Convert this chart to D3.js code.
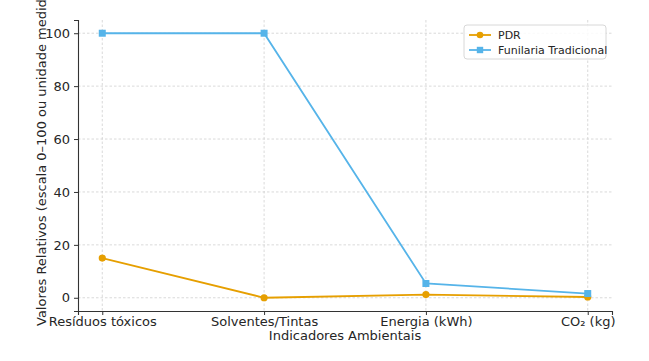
<!DOCTYPE html>
<html>
<head>
<meta charset="utf-8">
<script src="https://cdn.jsdelivr.net/npm/d3@7"></script>
<style>
  body { margin: 0; background: #fff; }
  text { font-family: "DejaVu Sans", sans-serif; fill: #262626; }
</style>
</head>
<body>
<script>
// data
var categories = ["Resíduos tóxicos", "Solventes/Tintas", "Energia (kWh)", "CO₂ (kg)"];
var pdr = [15, 0, 1.2, 0.3];
var funilaria = [100, 100, 5.4, 1.6];
var yTicks = [0, 20, 40, 60, 80, 100];
var seriesNames = ["PDR", "Funilaria Tradicional"];

var colors = ["#E69F00", "#56B4E9"];

// set the dimensions and margins of the graph
var margin = {top: 20, right: 37, bottom: 50, left: 78},
    width = 649 - margin.left - margin.right,
    height = 361 - margin.top - margin.bottom;

var svg = d3.select("body").append("svg")
    .attr("width", width + margin.left + margin.right)
    .attr("height", height + margin.top + margin.bottom)
  .append("g")
    .attr("transform", "translate(" + margin.left + "," + margin.top + ")");

var x = d3.scaleLinear().domain([-0.15, 3.15]).range([0, width]);
var y = d3.scaleLinear().domain([-5, 105]).range([height, 0]);

// grid
svg.append("g").selectAll("line")
    .data(yTicks).enter().append("line")
    .attr("x1", 0).attr("x2", width)
    .attr("y1", function(d) { return y(d); })
    .attr("y2", function(d) { return y(d); })
    .style("stroke", "#d0d0d0").style("stroke-width", 0.8)
    .style("stroke-dasharray", "2.5,2");
svg.append("g").selectAll("line")
    .data(categories).enter().append("line")
    .attr("x1", function(d, i) { return x(i); })
    .attr("x2", function(d, i) { return x(i); })
    .attr("y1", 0).attr("y2", height)
    .style("stroke", "#d0d0d0").style("stroke-width", 0.8)
    .style("stroke-dasharray", "2.5,2");

// axes
var xAxis = svg.append("g")
    .attr("transform", "translate(0," + height + ")")
    .call(d3.axisBottom(x).tickValues([0, 1, 2, 3])
      .tickFormat(function(d) { return categories[d]; })
      .tickSizeOuter(0).tickSize(4).tickPadding(2));
var yAxis = svg.append("g")
    .call(d3.axisLeft(y).tickValues(yTicks).tickSizeOuter(0).tickSize(4).tickPadding(4));

[xAxis, yAxis].forEach(function(a) {
  a.select(".domain").style("stroke", "#333").style("stroke-width", 1.1);
  a.selectAll(".tick line").style("stroke", "#333");
  a.selectAll(".tick text")
    .attr("font-family", "DejaVu Sans")
    .attr("font-size", 13)
    .style("fill", "#262626");
});

// lines
var line = d3.line()
    .x(function(d, i) { return x(i); })
    .y(function(d) { return y(d); });

[pdr, funilaria].forEach(function(vals, s) {
  svg.append("path")
      .datum(vals)
      .attr("d", line)
      .style("fill", "none")
      .style("stroke", colors[s])
      .style("stroke-width", 1.8);
});

svg.selectAll("circle.pdr")
    .data(pdr).enter().append("circle")
    .attr("class", "pdr")
    .attr("cx", function(d, i) { return x(i); })
    .attr("cy", function(d) { return y(d); })
    .attr("r", 3.6)
    .style("fill", colors[0]);

svg.selectAll("rect.fun")
    .data(funilaria).enter().append("rect")
    .attr("class", "fun")
    .attr("x", function(d, i) { return x(i) - 3.5; })
    .attr("y", function(d) { return y(d) - 3.5; })
    .attr("width", 7).attr("height", 7)
    .style("fill", colors[1]);

// Axis labels
svg.append("text")
    .attr("x", width / 2)
    .attr("y", height + 29)
    .style("text-anchor", "middle")
    .attr("font-size", 13)
    .text("Indicadores Ambientais");
svg.append("text")
    .attr("transform", "rotate(-90)")
    .attr("x", -(height + 15))
    .attr("y", -32)
    .style("text-anchor", "start")
    .attr("font-size", 13)
    .text("Valores Relativos (escala 0–100 ou unidade medida)");

// legend
var lg = svg.append("g").attr("transform", "translate(" + (width - 148) + ",5)");
lg.append("rect")
    .attr("width", 142).attr("height", 34).attr("rx", 3)
    .style("fill", "#fff").style("fill-opacity", 0.85)
    .style("stroke", "#d8d8d8");
seriesNames.forEach(function(name, s) {
  var g = lg.append("g").attr("transform", "translate(0," + (10 + s * 15) + ")");
  g.append("line").attr("x1", 5).attr("x2", 27)
    .style("stroke", colors[s]).style("stroke-width", 1.8);
  if (s === 0) {
    g.append("circle").attr("cx", 16).attr("r", 3.3).style("fill", colors[s]);
  } else {
    g.append("rect").attr("x", 12.8).attr("y", -3.2).attr("width", 6.4).attr("height", 6.4)
      .style("fill", colors[s]);
  }
  g.append("text").attr("x", 34).attr("dy", "0.35em")
    .attr("font-size", 11).text(name);
});
</script>
</body>
</html>
